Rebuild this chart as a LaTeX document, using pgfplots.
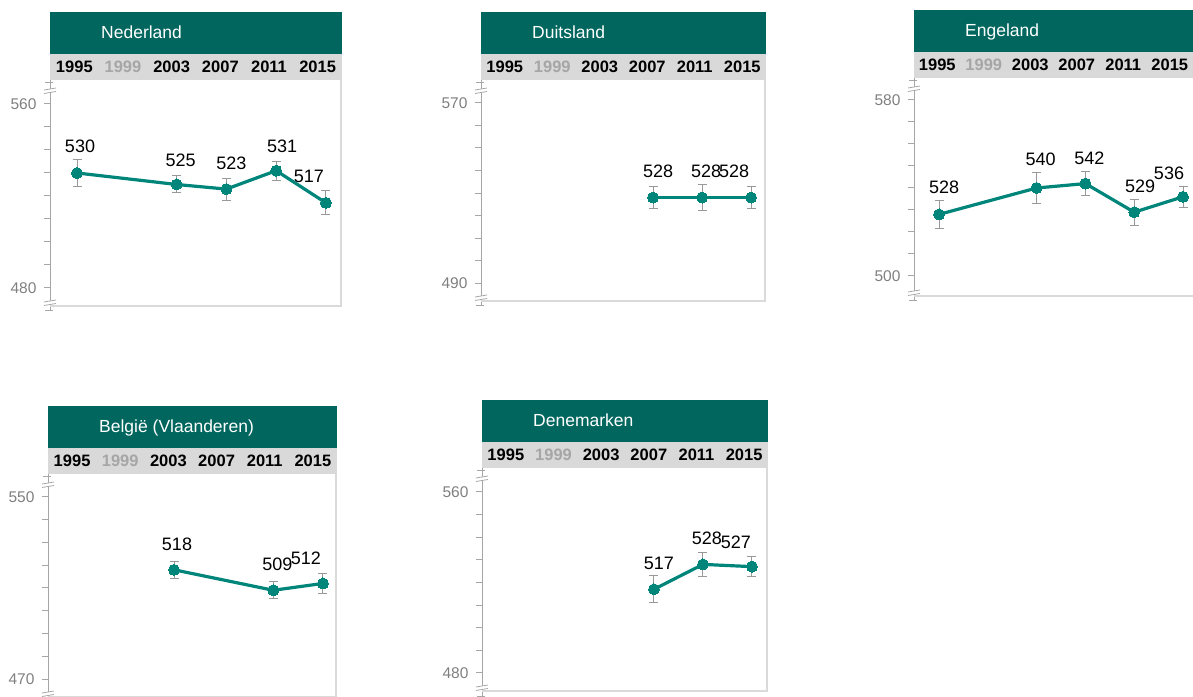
\documentclass[border=0pt]{standalone}
\usepackage{pgfplots}
\pgfplotsset{compat=1.18}
\usepackage{pgfplotstable}
\usepackage{fontspec}
\setmainfont{Liberation Sans}

\definecolor{hdr}{HTML}{00665E}
\definecolor{band}{HTML}{D9D9D9}
\definecolor{lijn}{HTML}{00857B}
\definecolor{axgrey}{HTML}{A6A6A6}
\definecolor{lblgrey}{HTML}{808080}
\definecolor{errgrey}{HTML}{999999}
\definecolor{yrgrey}{HTML}{A6A6A6}
\definecolor{brd}{HTML}{DADADA}

\newcommand{\hdrfont}{\fontsize{17.5}{20}\selectfont}
\newcommand{\yrfont}{\fontsize{16.5}{18}\selectfont\bfseries}
\newcommand{\valfont}{\fontsize{18}{20}\selectfont}
\newcommand{\tickfont}{\fontsize{15.5}{17}\selectfont}

% year score err dx dy  (dx,dy: label offset in px)
\pgfplotstableread{
year score err dx dy
1995 530 6.0 3 20
2003 525 3.7 4 18
2007 523 4.8 5 20
2011 531 4.1 6 18
2015 517 5.2 -17 20
}\nld
\pgfplotstableread{
year score err dx dy
2007 528 4.7 5 20
2011 528 5.8 4 20
2015 528 4.7 -17 20
}\dld
\pgfplotstableread{
year score err dx dy
1995 528 6.4 5 21
2003 540 6.9 4 22
2007 542 5.3 4 19
2011 529 5.9 6 20
2015 536 4.7 -14 17
}\eng
\pgfplotstableread{
year score err dx dy
2003 518 3.7 3 19
2011 509 3.8 4 20
2015 512 4.4 -17 19
}\bel
\pgfplotstableread{
year score err dx dy
2007 517 5.9 5 20
2011 528 5.4 4 20
2015 527 4.3 -16 18
}\dnk

% header + year band; #1 left, #2 top (px from top), #3 width, #4 title
\newcommand{\panelbg}[4]{%
  \fill[hdr] (#1,696-#2) rectangle (#1+#3,696-#2-42);
  \fill[band] (#1,696-#2-42) rectangle (#1+#3,696-#2-68);
  \node[anchor=base west, text=white, font=\hdrfont, inner sep=0pt] at (#1+51,696-#2-27) {#4};
  \foreach \yr [count=\i from 0] in {1995,1999,2003,2007,2011,2015}{%
    \ifnum\yr=1999\relax\def\yc{yrgrey}\else\def\yc{black}\fi
    \node[font=\yrfont, text=\yc, inner sep=0pt] at (#1+#3*\i/6+#3/12,696-#2-55) {\yr};
  }
}
% borders and axis breaks; #1 axis x, #2 plot top, #3 plot bottom, #4 right x
\newcommand{\panelfg}[4]{%
  \draw[brd, line width=2pt] (#4-1,696-#2) -- (#4-1,696-#3);
  \draw[brd, line width=2pt] (#1,696-#3+1) -- (#4,696-#3+1);
  \draw[axgrey, line width=1pt] (#1,696-#3) -- (#1,696-#3-4);
  \draw[axgrey, line width=1pt] (#1-5,696-#2-3) -- (#1+3,696-#2-3);
  \draw[axgrey, line width=1pt] (#1-5,696-#3-4) -- (#1+3,696-#3-4);
  \fill[white] (#1-6,696-#2-10) -- (#1+6,696-#2-8) -- (#1+6,696-#2-11.5) -- (#1-6,696-#2-13.5) -- cycle;
  \draw[axgrey, line width=0.8pt] (#1-6,696-#2-10) -- (#1+6,696-#2-8);
  \draw[axgrey, line width=0.8pt] (#1-6,696-#2-13.5) -- (#1+6,696-#2-11.5);
  \fill[white] (#1-6,696-#3+5) -- (#1+6,696-#3+7) -- (#1+6,696-#3+3.5) -- (#1-6,696-#3+1.5) -- cycle;
  \draw[axgrey, line width=0.8pt] (#1-6,696-#3+5) -- (#1+6,696-#3+7);
  \draw[axgrey, line width=0.8pt] (#1-6,696-#3+1.5) -- (#1+6,696-#3+3.5);
}

\pgfplotsset{
  panel/.style={
    scale only axis, anchor=north west, clip=false,
    axis x line=none, axis y line*=left,
    y axis line style={axgrey, line width=1pt, -},
    ytick style={axgrey, line width=1pt},
    tick align=outside, major tick length=6pt,
    yticklabel style={text=lblgrey, font=\tickfont, xshift=-4pt},
    /pgf/number format/assume math mode=true,
  },
  errs/.style={only marks, mark=none, forget plot,
    error bars/.cd, y dir=both, y explicit,
    error bar style={errgrey, line width=1pt},
    error mark options={rotate=90, errgrey, mark size=4.5pt, line width=1pt}},
  serie/.style={lijn, line width=3.2pt, line join=round, mark=*, mark size=5.5pt,
    mark options={fill=lijn, draw=lijn, line width=0pt},
    visualization depends on={\thisrow{dx} \as \dx},
    visualization depends on={\thisrow{dy} \as \dy},
    nodes near coords, point meta=explicit symbolic,
    every node near coord/.append style={anchor=base, xshift=\dx, yshift=\dy,
      text=black, font=\valfont, inner sep=0pt}},
}

\begin{document}
\begin{tikzpicture}[x=1pt,y=1pt]
\useasboundingbox (0,0) rectangle (1193,696);

% Nederland
\panelbg{50}{12}{292}{Nederland}
\begin{axis}[panel, at={(50pt,616pt)}, width=292pt, height=227pt,
  xmin=1992.83, xmax=2016.29, ymin=471.74, ymax=570.43,
  ytick={480,490,...,560}, yticklabels={480,,,,,,,,560}]
\addplot[errs] table[x=year, y=score, y error=err] {\nld};
\addplot[serie] table[x=year, y=score, meta=score] {\nld};
\end{axis}
\panelfg{50}{80}{307}{342}

% Duitsland
\panelbg{481}{12}{285}{Duitsland}
\begin{axis}[panel, at={(481pt,616pt)}, width=285pt, height=222pt,
  xmin=1992.96, xmax=2016.22, ymin=481.56, ymax=580.22,
  ytick={490,500,...,570}, yticklabels={490,,,,,,,,570}]
\addplot[errs] table[x=year, y=score, y error=err] {\dld};
\addplot[serie] table[x=year, y=score, meta=score] {\dld};
\end{axis}
\panelfg{481}{80}{302}{766}

% Engeland
\panelbg{914}{10}{279}{Engeland}
\begin{axis}[panel, at={(914pt,618pt)}, width=279pt, height=219pt,
  xmin=1992.95, xmax=2015.82, ymin=490.45, ymax=590,
  ytick={500,510,...,580}, yticklabels={500,,,,,,,,580}]
\addplot[errs] table[x=year, y=score, y error=err] {\eng};
\addplot[serie] table[x=year, y=score, meta=score] {\eng};
\end{axis}
\panelfg{914}{78}{297}{1200}

% Belgie (Vlaanderen)
\panelbg{48}{406}{289}{België (Vlaanderen)}
\begin{axis}[panel, at={(48pt,222pt)}, width=289pt, height=224pt,
  xmin=1992.85, xmax=2016.13, ymin=461.65, ymax=560.1,
  ytick={470,480,...,550}, yticklabels={470,,,,,,,,550}]
\addplot[errs] table[x=year, y=score, y error=err] {\bel};
\addplot[serie] table[x=year, y=score, meta=score] {\bel};
\end{axis}
\panelfg{48}{474}{698}{337}

% Denemarken
\panelbg{482}{400}{286}{Denemarken}
\begin{axis}[panel, at={(482pt,228pt)}, width=286pt, height=224pt,
  xmin=1992.96, xmax=2016.31, ymin=471.6, ymax=570.6,
  ytick={480,490,...,560}, yticklabels={480,,,,,,,,560}]
\addplot[errs] table[x=year, y=score, y error=err] {\dnk};
\addplot[serie] table[x=year, y=score, meta=score] {\dnk};
\end{axis}
\panelfg{482}{468}{692}{768}
\end{tikzpicture}
\end{document}
